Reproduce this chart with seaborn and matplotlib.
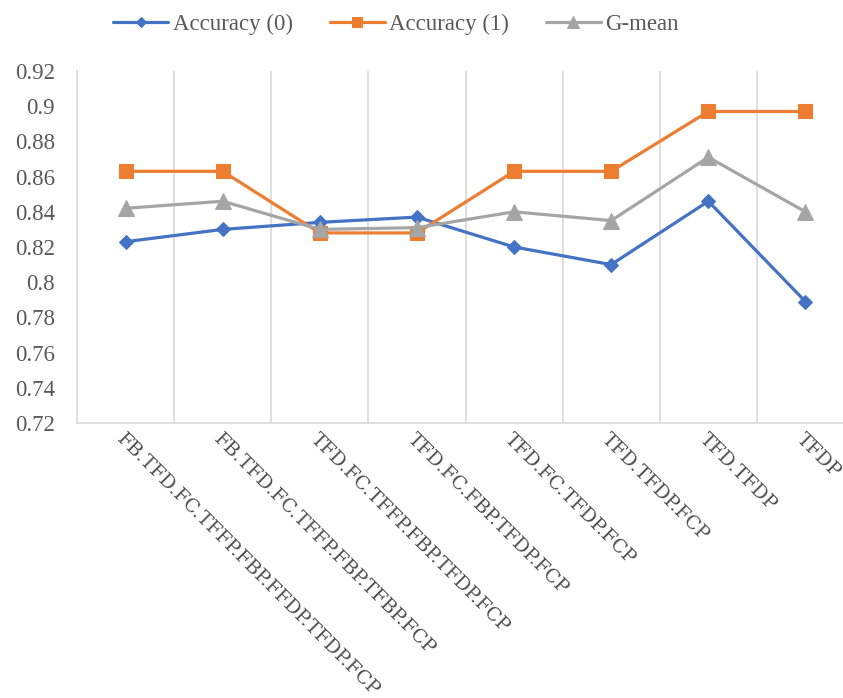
import matplotlib
matplotlib.use("Agg")
import matplotlib.pyplot as plt
import seaborn as sns
import pandas as pd
from matplotlib.ticker import FixedLocator

# Feature-set combinations evaluated
categories = [
    "FB.TFD.FC.TFFP.FBP.FFDP.TFDP.FCP",
    "FB.TFD.FC.TFFP.FBP.TFBP.FCP",
    "TFD.FC.TFFP.FBP.TFDP.FCP",
    "TFD.FC.FBP.TFDP.FCP",
    "TFD.FC.TFDP.FCP",
    "TFD.TFDP.FCP",
    "TFD.TFDP",
    "TFDP",
]

# Scores per feature set
accuracy_0 = [0.823, 0.830, 0.834, 0.837, 0.820, 0.810, 0.846, 0.789]
accuracy_1 = [0.863, 0.863, 0.828, 0.828, 0.863, 0.863, 0.897, 0.897]
g_mean = [0.842, 0.846, 0.830, 0.831, 0.840, 0.835, 0.871, 0.840]

series_names = ["Accuracy (0)", "Accuracy (1)", "G-mean"]
y_ticks = [0.72, 0.74, 0.76, 0.78, 0.80, 0.82, 0.84, 0.86, 0.88, 0.90, 0.92]
y_tick_labels = ["0.72", "0.74", "0.76", "0.78", "0.8", "0.82", "0.84",
                 "0.86", "0.88", "0.9", "0.92"]

df = pd.DataFrame({
    "feature_set": categories * 3,
    "score": accuracy_0 + accuracy_1 + g_mean,
    "series": [s for s in series_names for _ in categories],
})

sns.set_theme(style="white")
plt.rcParams["font.family"] = ["Liberation Serif", "DejaVu Sans"]

W, H = 843, 698
fig = plt.figure(figsize=(W / 100, H / 100), dpi=100)
ax_left, ax_right, ax_top, ax_bottom = 77, 854, 71, 423
ax = fig.add_axes([ax_left / W, 1 - ax_bottom / H,
                   (ax_right - ax_left) / W, (ax_bottom - ax_top) / H])

styles = {
    "Accuracy (0)": dict(color="#4472C4", marker="D", markersize=7.0),
    "Accuracy (1)": dict(color="#ED7D31", marker="s", markersize=10.5),
    "G-mean": dict(color="#A5A5A5", marker="^", markersize=11.0),
}

for name in series_names:
    st = styles[name]
    sub = df[df["series"] == name]
    sns.lineplot(data=sub, x="feature_set", y="score", ax=ax, sort=False,
                 color=st["color"], marker=st["marker"],
                 markersize=st["markersize"], markeredgecolor=st["color"],
                 linewidth=2.3, label=name, zorder=3)

ax.set_xlim(-0.5, len(categories) - 0.5)
ax.set_ylim(0.72, 0.92)
ax.set_yticks(y_ticks)
ax.set_yticklabels(y_tick_labels)
ax.set_xlabel("")
ax.set_ylabel("")

# Vertical separators between categories
ax.xaxis.set_minor_locator(FixedLocator([i + 0.5 for i in range(len(categories) - 1)]))
ax.grid(False)
ax.grid(which="minor", axis="x", color="#D9D9D9", linewidth=1.2)
ax.tick_params(which="both", length=0)
ax.tick_params(axis="y", pad=16, labelsize=16.5, labelcolor="#595959")
ax.tick_params(axis="x", pad=5)

for side in ["top", "right"]:
    ax.spines[side].set_visible(False)
for side in ["left", "bottom"]:
    ax.spines[side].set_color("#D9D9D9")
    ax.spines[side].set_linewidth(1.2)

ax.set_xticks(range(len(categories)))
ax.set_xticklabels(categories, rotation=-45, ha="left", va="top",
                   rotation_mode="anchor", fontfamily="DejaVu Serif",
                   fontsize=13.8, color="#4d4d4d")

handles, labels = ax.get_legend_handles_labels()
ax.legend(handles, labels, loc="center", bbox_to_anchor=(396 / W, 1 - 24 / H),
          bbox_transform=fig.transFigure, ncol=3, frameon=False,
          fontsize=16.5, handlelength=2.4, handletextpad=0.2,
          columnspacing=1.6, labelcolor="#595959", markerscale=0.75)

fig.savefig("out.png", dpi=100)
